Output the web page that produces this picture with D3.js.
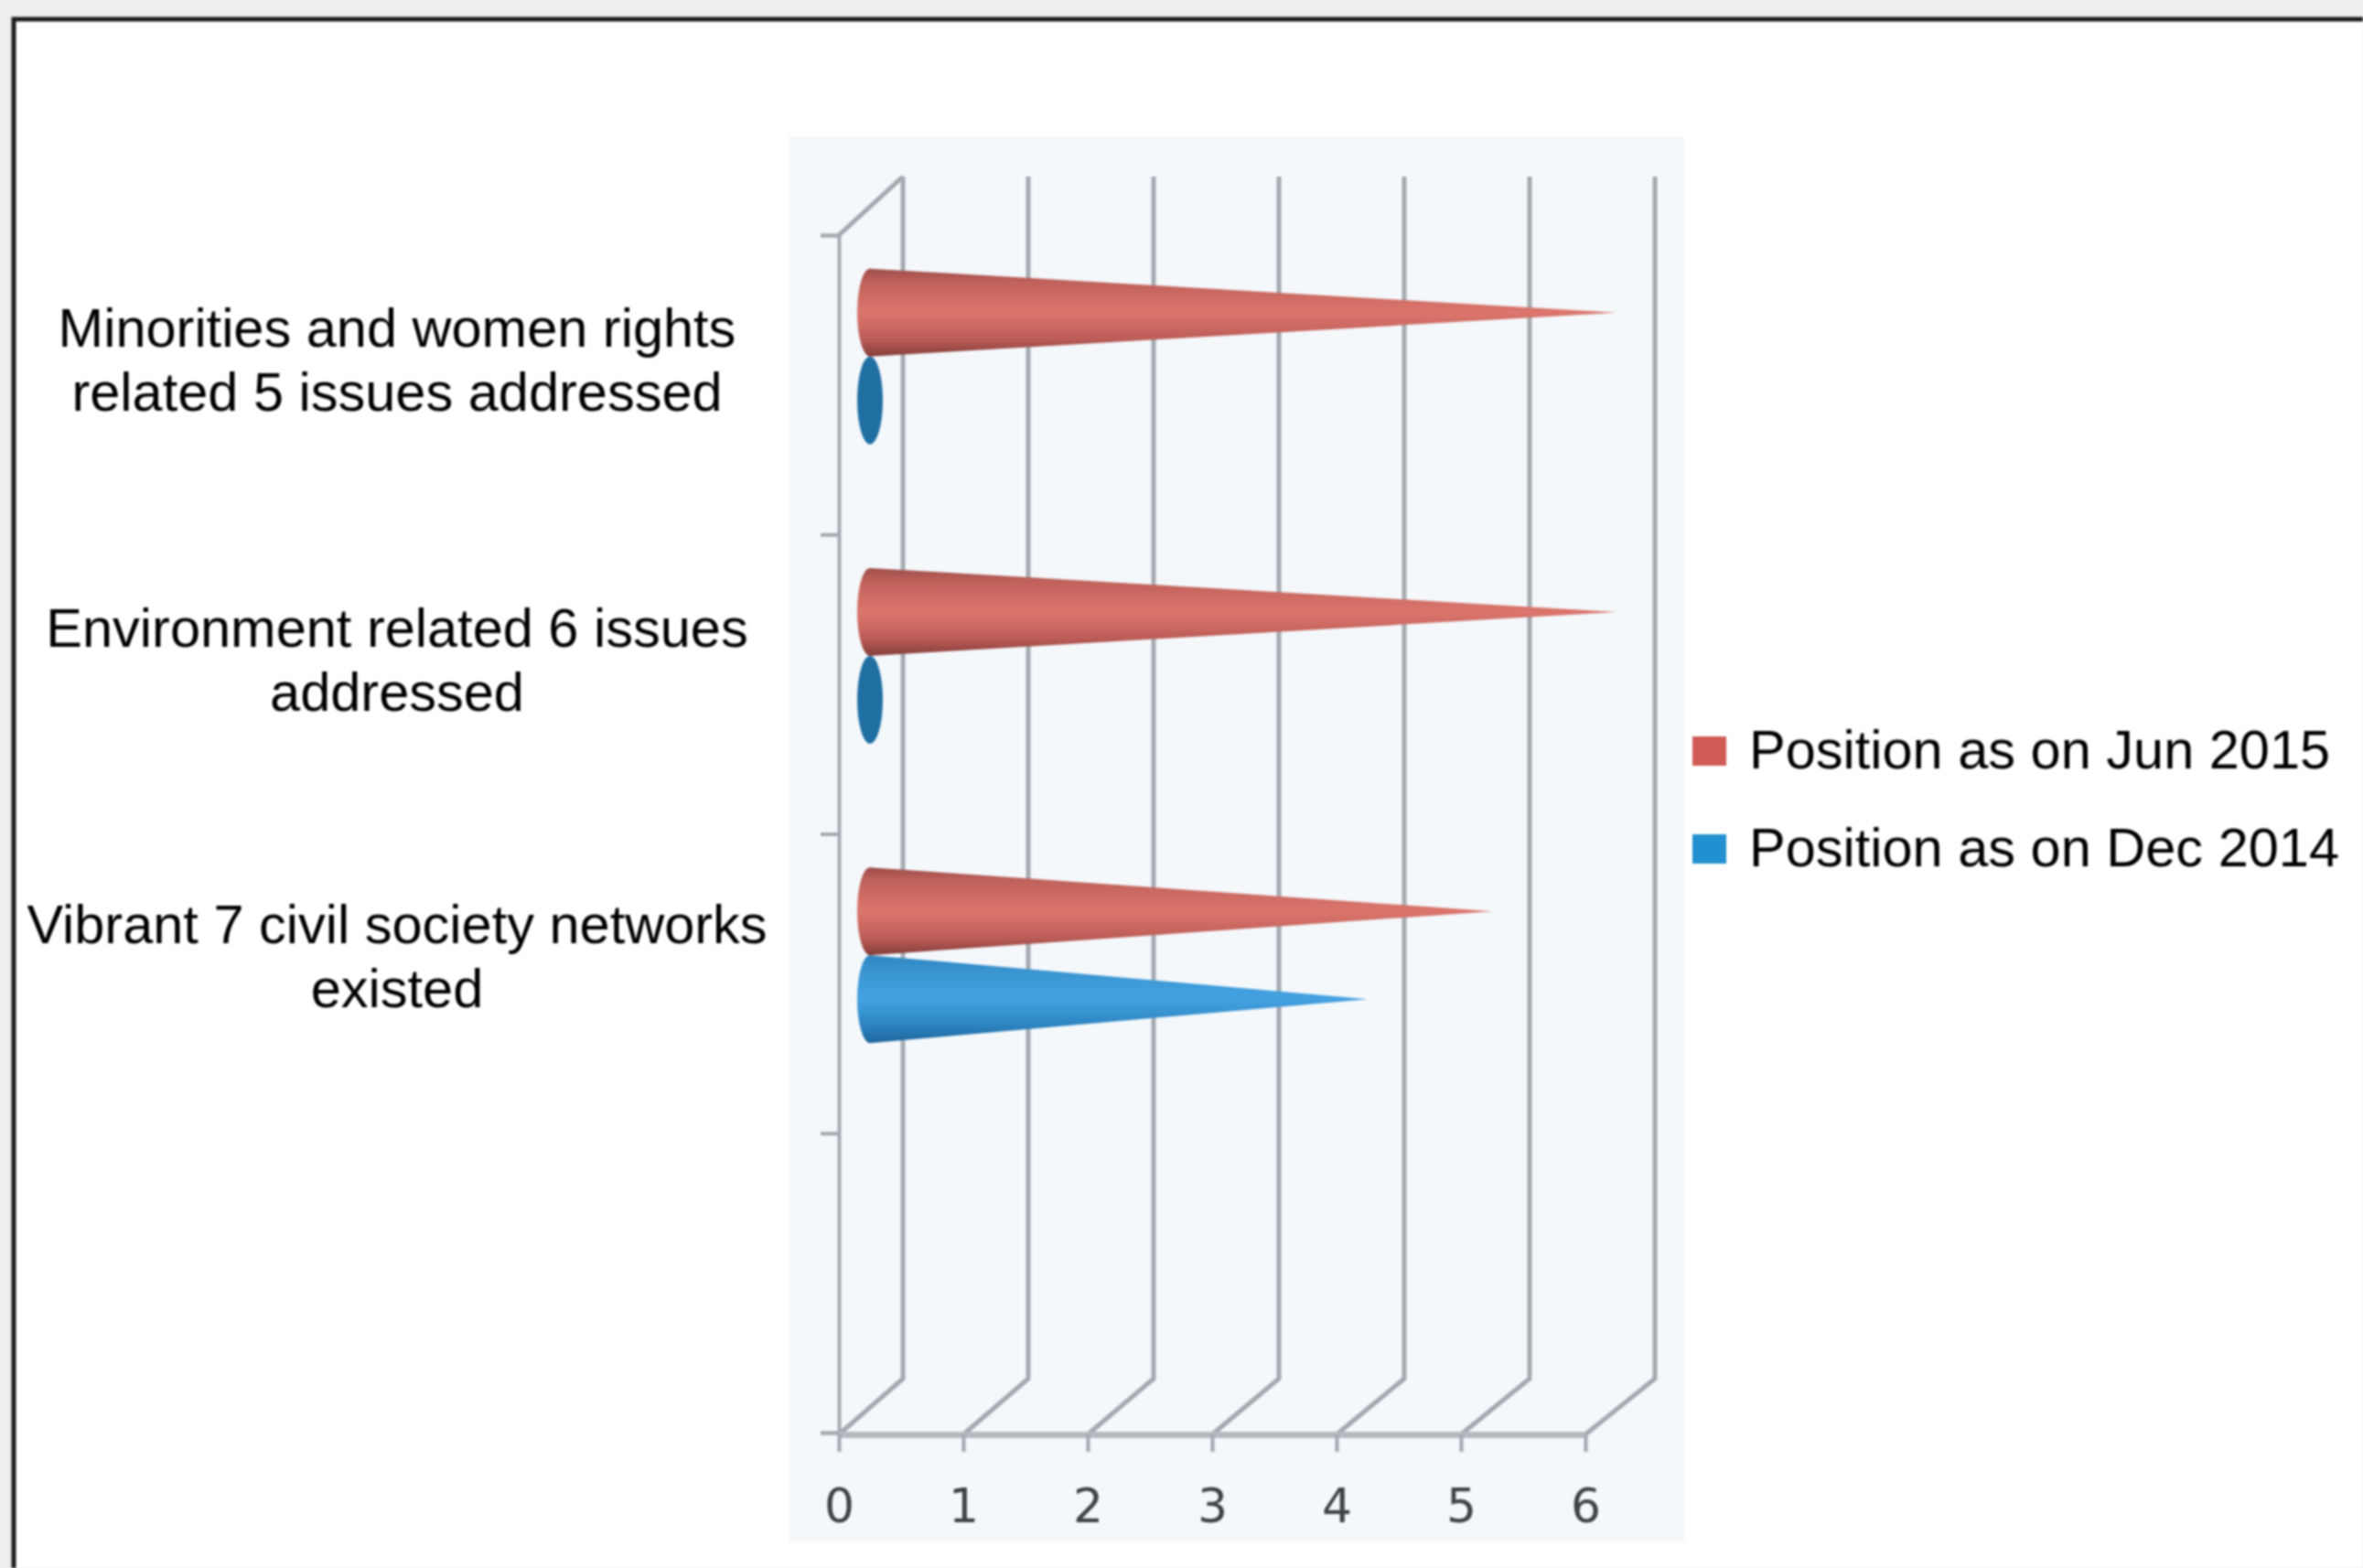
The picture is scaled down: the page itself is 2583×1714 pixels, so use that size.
<!DOCTYPE html>
<html>
<head>
<meta charset="utf-8">
<script src="https://cdn.jsdelivr.net/npm/d3@7"></script>
<style>
  html, body { margin: 0; padding: 0; background: #eeeeee; overflow: hidden; }
  svg { display: block; filter: blur(1px); }
  text { font-family: "Liberation Sans", Arial, sans-serif; fill: #000; }
</style>
</head>
<body>
<div id="chart"></div>
<script>
// Chart values
const categories = [
  ["Minorities and women rights", "related 5 issues addressed"],
  ["Environment related 6 issues", "addressed"],
  ["Vibrant 7 civil society networks", "existed"]
];
const categoryCount = 4; // the axis has one empty band at the bottom
const jun2015 = [6, 6, 5];
const dec2014 = [0, 0, 4];
const xTicks = [0, 1, 2, 3, 4, 5, 6];
const seriesNames = ["Position as on Jun 2015", "Position as on Dec 2014"];

const w = 2583;
const h = 1714;

// Front plane and back plane of the fake 3D box
const axisLeftX = 917;
const axisRightX = 1733;
const axisTopY = 257;
const axisBottomY = 1566;
const floorY = 1568;
const backLeftX = 987;
const backRightX = 1809;
const backTopY = 193;
const backBottomY = 1507;
const gridColor = "#a3a9af";

// Cones stand in the middle of the box depth
const coneOffsetX = 34;
const coneOffsetY = -31;
const coneHalf = 48;
const coneBaseRx = 14;

const svg = d3.select("#chart").append("svg")
  .attr("width", w)
  .attr("height", h);

const defs = svg.append("defs");

function addConeGradient(id, stops) {
  const g = defs.append("linearGradient")
    .attr("id", id)
    .attr("x1", 0).attr("y1", 0).attr("x2", 0).attr("y2", 1);
  stops.forEach(s => g.append("stop").attr("offset", s[0]).attr("stop-color", s[1]));
}
addConeGradient("redCone", [[0, "#9c4c49"], [0.15, "#c0615b"], [0.5, "#dc766d"], [0.8, "#bd5d58"], [1, "#853e3c"]]);
addConeGradient("blueCone", [[0, "#2f86c0"], [0.2, "#3a95d2"], [0.5, "#45a2e2"], [0.8, "#2c84c0"], [1, "#1f659c"]]);

// Outer frame of the page, the white area runs off the right and bottom edge
svg.append("rect")
  .attr("x", 15).attr("y", 21)
  .attr("width", w).attr("height", h)
  .attr("fill", "#ffffff")
  .attr("stroke", "#1c1c1c")
  .attr("stroke-width", 5);

// Pale plot panel
svg.append("rect")
  .attr("x", 862).attr("y", 149)
  .attr("width", 979).attr("height", 1536)
  .attr("fill", "#f4f8fb");

const xScale = d3.scaleLinear()
  .domain([0, 6])
  .range([axisLeftX, axisRightX]);

const xBack = d3.scaleLinear()
  .domain([0, 6])
  .range([backLeftX, backRightX]);

// Band edges carry the ticks of the left axis
const yEdge = d3.scaleLinear()
  .domain([0, categoryCount])
  .range([axisTopY, axisBottomY]);

// Back wall lines and the slanted floor lines
const grid = svg.append("g").attr("fill", "none")
  .attr("stroke", gridColor).attr("stroke-width", 5);

grid.selectAll("path")
  .data(xTicks)
  .enter()
  .append("path")
  .attr("d", d => `M${xScale(d)},${floorY}L${xBack(d)},${backBottomY}L${xBack(d)},${backTopY}`);

grid.append("line")
  .attr("x1", axisLeftX).attr("y1", axisTopY)
  .attr("x2", backLeftX).attr("y2", backTopY);

// Left axis
const yAxis = d3.axisLeft(yEdge).ticks(categoryCount).tickSize(20).tickFormat("");
const yAxisG = svg.append("g")
  .attr("transform", `translate(${axisLeftX},0)`)
  .call(yAxis);
yAxisG.selectAll("path, line").attr("stroke", gridColor).attr("stroke-width", 4);

// Bottom axis
const xAxis = d3.axisBottom(xScale)
  .tickValues(xTicks)
  .tickFormat(d3.format("d"))
  .tickSizeInner(19)
  .tickSizeOuter(0)
  .tickPadding(40);
const xAxisG = svg.append("g")
  .attr("transform", `translate(0,${floorY})`)
  .call(xAxis);
xAxisG.select(".domain").attr("stroke", "#b4babf").attr("stroke-width", 7);
xAxisG.selectAll("line").attr("stroke", gridColor).attr("stroke-width", 4);
xAxisG.selectAll("text")
  .style("font-family", '"DejaVu Sans", sans-serif')
  .style("font-size", "52px")
  .style("fill", "#3d4347")
  .attr("dy", "0.71em");

const coneX = v => xScale(v) + coneOffsetX;
const bandCenter = i => (yEdge(i) + yEdge(i + 1)) / 2 + coneOffsetY;

function drawCones(values, offset, gradient, flatColor) {
  const cones = svg.append("g").selectAll("g")
    .data(values.map((value, index) => ({ value, index })))
    .enter()
    .append("g");

  cones.filter(d => d.value > 0).append("path")
    .attr("fill", `url(#${gradient})`)
    .attr("d", d => {
      const cy = bandCenter(d.index) + offset;
      return `M${coneX(0)},${cy - coneHalf}L${coneX(d.value)},${cy}L${coneX(0)},${cy + coneHalf}Z`;
    });

  cones.append("ellipse")
    .attr("cx", coneX(0))
    .attr("cy", d => bandCenter(d.index) + offset)
    .attr("rx", coneBaseRx)
    .attr("ry", coneHalf)
    .attr("fill", d => d.value > 0 ? `url(#${gradient})` : flatColor);
}

drawCones(dec2014, coneHalf, "blueCone", "#1f6fa3");
drawCones(jun2015, -coneHalf, "redCone", "#c4645e");

// Category labels, centred on two lines
const labelNudge = [0, 1.5, -2.5];
const labels = svg.append("g").selectAll("text")
  .data(categories)
  .enter()
  .append("text")
  .attr("text-anchor", "middle")
  .style("font-size", "59.5px");

labels.selectAll("tspan")
  .data((d, i) => d.map((line, k) => ({ line, k, i })))
  .enter()
  .append("tspan")
  .attr("x", 434)
  .attr("y", d => (yEdge(d.i) + yEdge(d.i + 1)) / 2 - 42 + labelNudge[d.i] + d.k * 70)
  .text(d => d.line);

// Legend
const legendColors = ["#d05a55", "#2090d0"];
const legendRows = [840, 947];
const legend = svg.append("g").selectAll("g")
  .data(seriesNames)
  .enter()
  .append("g");

legend.append("rect")
  .attr("x", 1850)
  .attr("y", (d, i) => legendRows[i] - 35)
  .attr("width", 37)
  .attr("height", 32)
  .attr("fill", (d, i) => legendColors[i]);

legend.append("text")
  .attr("x", 1912)
  .attr("y", (d, i) => legendRows[i])
  .style("font-size", "59.5px")
  .text(d => d);
</script>
</body>
</html>
